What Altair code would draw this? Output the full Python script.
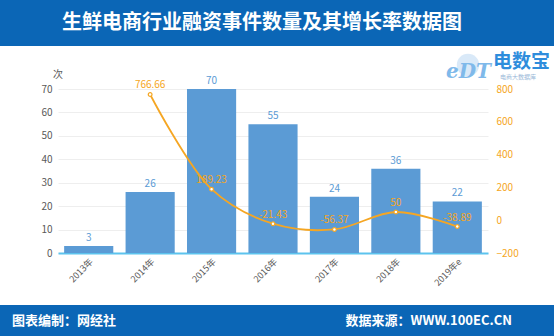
import altair as alt
import pandas as pd

years = ["2013年", "2014年", "2015年", "2016年", "2017年", "2018年", "2019年e"]
counts = [3, 26, 70, 55, 24, 36, 22]
growth_years = ["2014年", "2015年", "2016年", "2017年", "2018年", "2019年e"]
growth = [766.66, 189.23, -21.43, -56.37, 50, -38.89]
growth_labels = ["766.66", "189.23", "-21.43", "-56.37", "50", "-38.89"]
left_ticks = [0, 10, 20, 30, 40, 50, 60, 70]
right_ticks = [-200, 0, 200, 400, 600, 800]

title_text = "生鲜电商行业融资事件数量及其增长率数据图"
footer_left = "图表编制：网经社"
footer_right = "数据来源：WWW.100EC.CN"

bar_df = pd.DataFrame({"year": years, "count": counts})
line_df = pd.DataFrame({"year": growth_years, "growth": growth, "label": growth_labels})

BLUE = "#0b66b6"
BAR = "#5b9bd5"
ORANGE = "#f5a623"
PT = 89  # top padding
FONT = "Noto Sans CJK SC"


def xenc():
    return alt.X("year:N", sort=years, title=None,
                 scale=alt.Scale(paddingInner=0.2, paddingOuter=0.1),
                 axis=alt.Axis(labelAngle=-45, labelAlign="right", labelBaseline="top",
                               labelColor="#595959", labelFontSize=9, labelFont=FONT,
                               ticks=False, domainColor="#5cc3ee", domainWidth=2,
                               labelPadding=4, labelOverlap=False))


def yleft():
    return alt.Y("count:Q", title=None,
                 scale=alt.Scale(domain=[0, 70], nice=False, zero=True),
                 axis=alt.Axis(values=left_ticks, tickCount=8, gridColor="#eeeeee",
                               domain=False, ticks=False, labelColor="#595959",
                               labelFontSize=10, labelPadding=6, labelOverlap=False))


def yright():
    return alt.Y("growth:Q", title=None,
                 scale=alt.Scale(domain=[-200, 800], nice=False, zero=False),
                 axis=alt.Axis(orient="right", values=right_ticks, tickCount=6,
                               grid=False, domain=False, ticks=False,
                               labelColor=ORANGE, labelFontSize=10, labelPadding=8,
                               labelOverlap=False))


bars = alt.Chart(bar_df).mark_bar(color=BAR).encode(x=xenc(), y=yleft())
bar_text = alt.Chart(bar_df).mark_text(color=BAR, dy=-8, fontSize=10).encode(
    x=xenc(), y=yleft(), text="count:Q")
left = alt.layer(bars, bar_text)

line = alt.Chart(line_df).mark_line(color=ORANGE, interpolate="catmull-rom", strokeWidth=1.8).encode(
    x=xenc(), y=yright())
pts = alt.Chart(line_df).mark_point(color=ORANGE, fill="white", filled=True, stroke=ORANGE,
                                    strokeWidth=1.2, size=14, opacity=1).encode(
    x=xenc(), y=yright())
line_text = alt.Chart(line_df).mark_text(color=ORANGE, dy=-9, fontSize=10).encode(
    x=xenc(), y=yright(), text="label:N")
right = alt.layer(line, pts, line_text)

one = alt.Data(values=[{"a": 1}])

top_band = alt.Chart(one).mark_rect(color=BLUE).encode(
    x=alt.value(-58), x2=alt.value(496), y=alt.value(-PT), y2=alt.value(46 - PT))
bottom_band = alt.Chart(one).mark_rect(color=BLUE).encode(
    x=alt.value(-58), x2=alt.value(496), y=alt.value(305 - PT), y2=alt.value(336 - PT))
title = alt.Chart(one).mark_text(text=title_text, color="white", fontSize=20,
                                 fontWeight="bold", font=FONT, align="center",
                                 baseline="middle").encode(
    x=alt.value(262 - 58), y=alt.value(23 - PT))
fl = alt.Chart(one).mark_text(text=footer_left, color="white", fontSize=13,
                              fontWeight="bold", font=FONT, align="left",
                              baseline="middle").encode(
    x=alt.value(12 - 58), y=alt.value(321 - PT))
fr = alt.Chart(one).mark_text(text=footer_right, color="white", fontSize=13,
                              fontWeight="bold", font=FONT, align="right",
                              baseline="middle").encode(
    x=alt.value(512 - 58), y=alt.value(321 - PT))
unit = alt.Chart(one).mark_text(text="次", color="#595959", fontSize=10, font=FONT,
                                align="center", baseline="middle").encode(
    x=alt.value(0), y=alt.value(75 - PT))
logo1 = alt.Chart(one).mark_text(text="电数宝", color="#2e8ddc", fontSize=19,
                                 fontWeight="bold", font=FONT, align="left",
                                 baseline="middle").encode(
    x=alt.value(493 - 58), y=alt.value(62 - PT))
logo2 = alt.Chart(one).mark_text(text="电商大数据库", color="#9ab8d8", fontSize=6,
                                 font=FONT, align="left", baseline="middle").encode(
    x=alt.value(500 - 58), y=alt.value(77 - PT))
logo3 = alt.Chart(one).mark_text(text="eDT", color="#7fb9ea", fontSize=20,
                                 fontStyle="italic", fontWeight="bold", font="DejaVu Serif",
                                 align="left", baseline="middle").encode(
    x=alt.value(446 - 58), y=alt.value(72 - PT))
cloud = alt.Chart(one).mark_circle(color="#cfe4f6", size=500, opacity=0.8).encode(
    x=alt.value(468 - 58), y=alt.value(65 - PT))

deco = alt.layer(top_band, bottom_band, title, fl, fr, unit, cloud, logo3, logo1, logo2)

chart = alt.layer(left, right, deco).resolve_scale(y="independent").properties(
    width=430, height=164,
    padding={"left": 58, "top": PT, "right": 66, "bottom": 83},
    autosize="none",
    background="white",
).configure_view(stroke=None).configure_text(font=FONT).configure_axis(labelFont=FONT)

chart.save("out.html", embed_options={"renderer": "svg", "actions": False})
